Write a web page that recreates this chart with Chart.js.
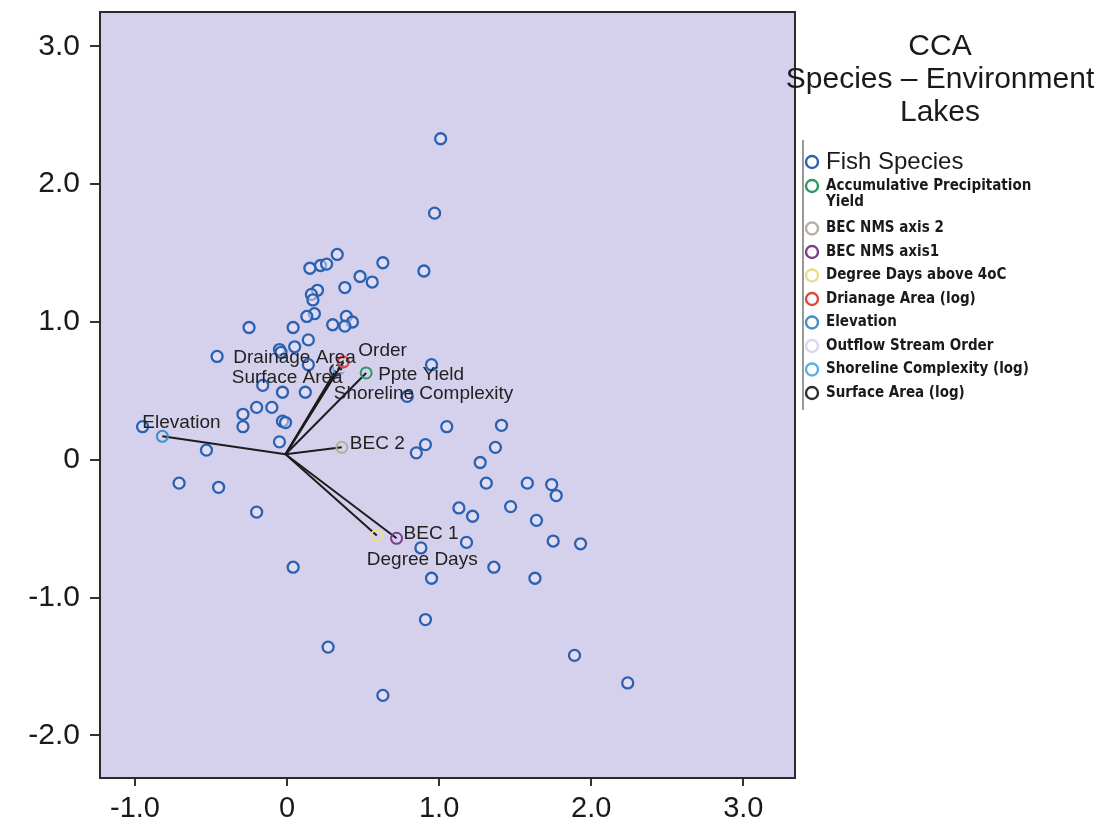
<!DOCTYPE html>
<html>
<head>
<meta charset="utf-8">
<script src="https://cdn.jsdelivr.net/npm/chart.js@4/dist/chart.umd.min.js"></script>
<style>
  html, body { margin: 0; padding: 0; background: #fff; }
  #wrap { width: 1099px; height: 832px; position: relative; }
</style>
</head>
<body>
<div id="wrap"><canvas id="chart"></canvas></div>
<script>
// fish species scores (CCA axis 1, axis 2)
const fishX = [1.01, 0.97, 0.33, 0.22, 0.26, 0.15, 0.63, 0.90, 0.48, 0.56, 0.38, 0.20, 0.16, 0.17, 0.18,
  0.13, 0.30, 0.39, 0.43, 0.38, 0.04, -0.25, 0.14, 0.05, -0.05, -0.04, -0.46, 0.14, 0.95, 0.12,
  -0.03, -0.16, 0.79, 1.05, 1.41, -0.20, -0.29, -0.29, -0.10, -0.03, -0.01, -0.05, -0.95, -0.53, -0.71,
  -0.45, -0.20, 0.04, 0.91, 0.85, 1.37, 1.27, 1.31, 1.58, 1.74, 1.77, 1.13, 1.22, 1.47, 1.64,
  1.75, 1.93, 1.18, 0.88, 1.36, 0.95, 1.63, 0.91, 1.89, 2.24, 0.27, 0.63];
const fishY = [2.33, 1.79, 1.49, 1.41, 1.42, 1.39, 1.43, 1.37, 1.33, 1.29, 1.25, 1.23, 1.20, 1.16, 1.06,
  1.04, 0.98, 1.04, 1.00, 0.97, 0.96, 0.96, 0.87, 0.82, 0.80, 0.78, 0.75, 0.69, 0.69, 0.49,
  0.49, 0.54, 0.46, 0.24, 0.25, 0.38, 0.33, 0.24, 0.38, 0.28, 0.27, 0.13, 0.24, 0.07, -0.17,
  -0.20, -0.38, -0.78, 0.11, 0.05, 0.09, -0.02, -0.17, -0.17, -0.18, -0.26, -0.35, -0.41, -0.34, -0.44,
  -0.59, -0.61, -0.60, -0.64, -0.78, -0.86, -0.86, -1.16, -1.42, -1.62, -1.36, -1.71];

// environment vectors
const vectorOrigin = [-0.01, 0.04];
const vectorLegend = ['Accumulative Precipitation\nYield', 'BEC NMS axis 2', 'BEC NMS axis1',
  'Degree Days above 4oC', 'Drianage Area (log)', 'Elevation', 'Outflow Stream Order',
  'Shoreline Complexity (log)', 'Surface Area (log)'];
const vectorNames = ['Ppte Yield', 'BEC 2', 'BEC 1', 'Degree Days', 'Drainage Area', 'Elevation',
  'Order', 'Shoreline Complexity', 'Surface Area'];
const vectorX = [0.52, 0.36, 0.72, 0.59, 0.37, -0.82, 0.35, 0.34, 0.32];
const vectorY = [0.63, 0.09, -0.57, -0.55, 0.71, 0.17, 0.68, 0.66, 0.65];

const xTicks = [-1, 0, 1, 2, 3];
const yTicks = [-2, -1, 0, 1, 2, 3];
const titleLines = ['CCA', 'Species \u2013 Environment', 'Lakes'];

// styling
const vectorColors = ['#2a9a5e', '#b8ae9f', '#7b3f8c', '#e8de8c', '#dc4640', '#3d8fd0', '#dcd4f2', '#5aaee6', '#2e2e2e'];
// label offsets from the arrow tip in pixels: [dx, dy]
const labelOffsets = [[12, 2], [8, -4], [7, -5], [-10, 24], [-110, -4], [-20, -14], [18, -15], [-5, 25], [-104, 8]];
const fishColor = '#2b61b0';
const plotBg = '#d5d1ed';

const datasets = [{
  label: 'Fish Species',
  data: fishX.map((x, i) => ({ x: x, y: fishY[i] })),
  pointRadius: 5.5,
  pointBorderWidth: 2.3,
  pointBorderColor: fishColor,
  pointBackgroundColor: 'rgba(235,232,250,0.5)',
  showLine: false,
  order: 1
}];
vectorNames.forEach((name, i) => {
  datasets.push({
    label: vectorLegend[i],
    tipLabel: name,
    data: [{ x: vectorOrigin[0], y: vectorOrigin[1] }, { x: vectorX[i], y: vectorY[i] }],
    showLine: true,
    borderColor: '#1c1c1c',
    borderWidth: 2,
    pointRadius: [0, 5.5],
    pointBorderWidth: 2,
    pointBorderColor: vectorColors[i],
    pointBackgroundColor: 'rgba(0,0,0,0)',
    order: 0
  });
});

const decor = {
  id: 'decor',
  beforeDraw(chart) {
    const { ctx, chartArea: a } = chart;
    ctx.save();
    ctx.fillStyle = plotBg;
    ctx.fillRect(a.left, a.top, a.right - a.left, a.bottom - a.top);
    ctx.restore();
  },
  afterDraw(chart) {
    const { ctx, chartArea: a } = chart;
    ctx.save();
    // frame
    ctx.strokeStyle = '#2a2a2a';
    ctx.lineWidth = 2;
    ctx.strokeRect(a.left, a.top, a.right - a.left, a.bottom - a.top);

    // vector labels
    ctx.font = '19px "Liberation Sans", Arial, sans-serif';
    ctx.fillStyle = '#222';
    ctx.textBaseline = 'middle';
    ctx.textAlign = 'left';
    chart.data.datasets.forEach((ds, i) => {
      if (!ds.tipLabel) return;
      const pt = chart.getDatasetMeta(i).data[1];
      const off = labelOffsets[i - 1];
      ctx.fillText(ds.tipLabel, pt.x + off[0], pt.y + off[1]);
    });

    // title
    ctx.textAlign = 'center';
    ctx.font = '30px "Liberation Sans", Arial, sans-serif';
    ctx.fillStyle = '#1a1a1a';
    titleLines.forEach((t, k) => ctx.fillText(t, 940, 47 + k * 33));

    // legend
    ctx.strokeStyle = '#333';
    ctx.lineWidth = 1;
    ctx.beginPath();
    ctx.moveTo(803, 140);
    ctx.lineTo(803, 410);
    ctx.stroke();
    ctx.textAlign = 'left';
    let y = 162;
    chart.data.datasets.forEach((ds, i) => {
      const col = i === 0 ? fishColor : vectorColors[i - 1];
      ctx.beginPath();
      ctx.arc(812, y, 6, 0, Math.PI * 2);
      ctx.lineWidth = 2.4;
      ctx.strokeStyle = col;
      ctx.stroke();
      ctx.fillStyle = '#1a1a1a';
      if (i === 0) {
        ctx.font = '24px "Liberation Sans", Arial, sans-serif';
        ctx.fillText(ds.label, 826, y);
        y += 24;
        return;
      }
      ctx.font = 'bold 15px "DejaVu Sans Condensed", "DejaVu Sans", sans-serif';
      const lines = ds.label.split('\n');
      lines.forEach((l, k) => ctx.fillText(l, 826, y + k * 16));
      y += 23.5 + (lines.length - 1) * 19;
    });
    ctx.restore();
  }
};

const fmt = v => v === 0 ? '0' : v.toFixed(1);

new Chart(document.getElementById('chart'), {
  type: 'scatter',
  data: { datasets: datasets },
  options: {
    responsive: true,
    maintainAspectRatio: false,
    animation: false,
    layout: { padding: { top: 12, right: 304, left: 0, bottom: 0 } },
    plugins: { legend: { display: false }, tooltip: { enabled: false } },
    scales: {
      x: {
        type: 'linear',
        min: -1.23,
        max: 3.34,
        afterBuildTicks: s => { s.ticks = xTicks.map(v => ({ value: v })); },
        afterFit: s => { s.height = 54; s.paddingLeft = 0; s.paddingRight = 0; },
        border: { display: false },
        grid: { drawOnChartArea: false, tickLength: 8, color: '#333', lineWidth: 2 },
        ticks: { callback: fmt, padding: 6, color: '#1a1a1a', font: { size: 29, family: '"Liberation Sans", Arial, sans-serif' } }
      },
      y: {
        type: 'linear',
        min: -2.31,
        max: 3.25,
        afterBuildTicks: s => { s.ticks = yTicks.map(v => ({ value: v })); },
        afterFit: s => { s.width = 100; s.paddingTop = 0; s.paddingBottom = 0; },
        border: { display: false },
        grid: { drawOnChartArea: false, tickLength: 10, color: '#333', lineWidth: 2 },
        ticks: { callback: fmt, padding: 10, color: '#1a1a1a', font: { size: 30, family: '"Liberation Sans", Arial, sans-serif' } }
      }
    }
  },
  plugins: [decor]
});
</script>
</body>
</html>
